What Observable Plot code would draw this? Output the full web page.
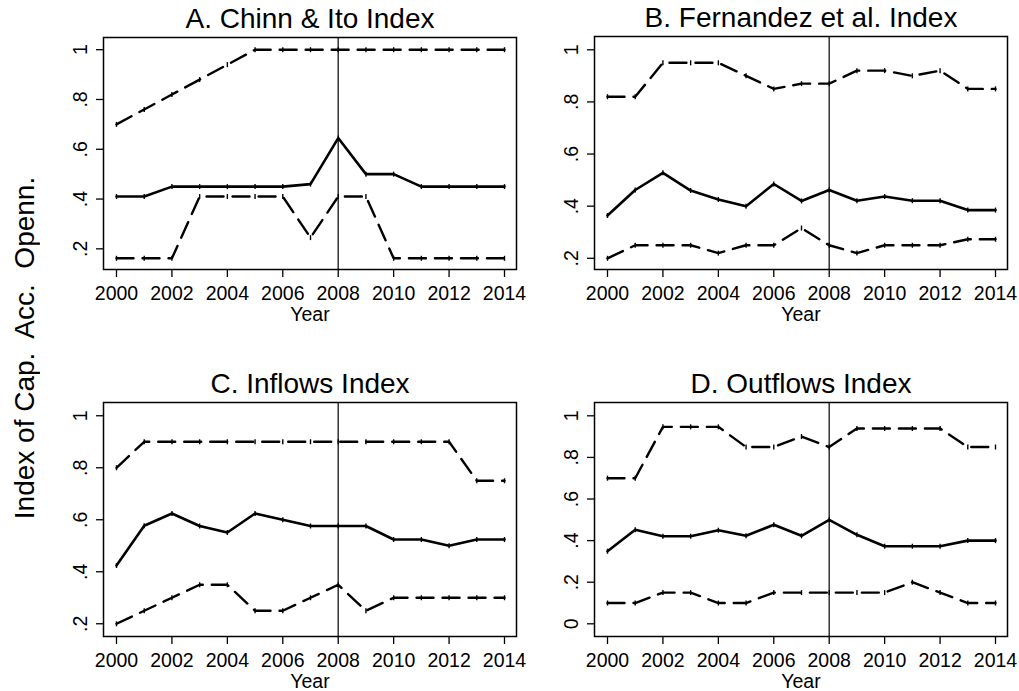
<!DOCTYPE html>
<html>
<head>
<meta charset="utf-8">
<script src="https://cdn.jsdelivr.net/npm/d3@7"></script>
<script src="https://cdn.jsdelivr.net/npm/@observablehq/plot@0.6"></script>
<style>
  html, body { margin: 0; padding: 0; background: #fff; }
  #root { position: relative; width: 1019px; height: 691px; overflow: hidden; background: #fff;
          font-family: "Liberation Sans", Arial, Helvetica, sans-serif; }
  #ylab { position: absolute; left: 25px; top: 348px; transform: translate(-50%, -50%) rotate(-90deg);
          white-space: pre; font-size: 28px; line-height: 1.12; color: #000; }
</style>
</head>
<body>
<div id="root"><div id="ylab">Index of Cap.  Acc.  Openn.</div></div>
<script>
// ---- data ----
const years = [2000, 2001, 2002, 2003, 2004, 2005, 2006, 2007, 2008, 2009, 2010, 2011, 2012, 2013, 2014];
const xTicks = [2000, 2002, 2004, 2006, 2008, 2010, 2012, 2014];
const yTicksABC = [0.2, 0.4, 0.6, 0.8, 1];
const yTicksD = [0, 0.2, 0.4, 0.6, 0.8, 1];
const crisisYear = [2008];

const titles = ["A. Chinn & Ito Index", "B. Fernandez et al. Index", "C. Inflows Index", "D. Outflows Index"];

const A_upper  = [0.70, 0.76, 0.82, 0.88, 0.94, 1, 1, 1, 1, 1, 1, 1, 1, 1, 1];
const A_median = [0.41, 0.41, 0.45, 0.45, 0.45, 0.45, 0.45, 0.46, 0.645, 0.50, 0.50, 0.45, 0.45, 0.45, 0.45];
const A_lower  = [0.162, 0.162, 0.162, 0.41, 0.41, 0.41, 0.41, 0.245, 0.41, 0.41, 0.162, 0.162, 0.162, 0.162, 0.162];

const B_upper  = [0.82, 0.82, 0.95, 0.95, 0.95, 0.90, 0.85, 0.87, 0.87, 0.92, 0.92, 0.90, 0.92, 0.85, 0.85];
const B_median = [0.364, 0.462, 0.528, 0.46, 0.426, 0.40, 0.485, 0.42, 0.462, 0.421, 0.437, 0.421, 0.421, 0.385, 0.385];
const B_lower  = [0.20, 0.25, 0.25, 0.25, 0.22, 0.25, 0.25, 0.316, 0.25, 0.22, 0.25, 0.25, 0.25, 0.273, 0.273];

const C_upper  = [0.80, 0.90, 0.90, 0.90, 0.90, 0.90, 0.90, 0.90, 0.90, 0.90, 0.90, 0.90, 0.90, 0.75, 0.75];
const C_median = [0.424, 0.577, 0.624, 0.576, 0.551, 0.624, 0.60, 0.576, 0.576, 0.576, 0.524, 0.524, 0.50, 0.524, 0.524];
const C_lower  = [0.20, 0.25, 0.30, 0.35, 0.35, 0.25, 0.25, 0.30, 0.35, 0.25, 0.30, 0.30, 0.30, 0.30, 0.30];

const D_upper  = [0.70, 0.70, 0.947, 0.947, 0.947, 0.85, 0.85, 0.90, 0.85, 0.939, 0.939, 0.939, 0.939, 0.85, 0.85];
const D_median = [0.349, 0.452, 0.421, 0.421, 0.45, 0.423, 0.476, 0.423, 0.50, 0.428, 0.373, 0.373, 0.373, 0.40, 0.40];
const D_lower  = [0.10, 0.10, 0.15, 0.15, 0.10, 0.10, 0.15, 0.15, 0.15, 0.15, 0.15, 0.20, 0.15, 0.10, 0.10];

// ---- layout ----
const FONT = "Liberation Sans, Arial, Helvetica, sans-serif";
const panels = [
  {title: titles[0], upper: A_upper, median: A_median, lower: A_lower, yTicks: yTicksABC, yDomain: [0.117, 1.049],
   left: 40, top: 0, width: 479, height: 330, m: {l: 63, r: 3, t: 37, b: 61}},
  {title: titles[1], upper: B_upper, median: B_median, lower: B_lower, yTicks: yTicksABC, yDomain: [0.157, 1.051],
   left: 530, top: 0, width: 489, height: 330, m: {l: 64, r: 12, t: 36, b: 61}},
  {title: titles[2], upper: C_upper, median: C_median, lower: C_lower, yTicks: yTicksABC, yDomain: [0.151, 1.051],
   left: 40, top: 350, width: 479, height: 341, m: {l: 63, r: 3, t: 52, b: 55}},
  {title: titles[3], upper: D_upper, median: D_median, lower: D_lower, yTicks: yTicksD, yDomain: [-0.061, 1.064],
   left: 530, top: 350, width: 489, height: 341, m: {l: 64, r: 12, t: 52, b: 55}}
];

const fmtY = d => d === 0 ? "0" : d === 1 ? "1" : String(d).replace(/^0/, "");

const vbar = { draw(context, size) { context.moveTo(0, -2.5); context.lineTo(0, 2.5); } };

const root = document.getElementById("root");

for (const p of panels) {
  const rows = [];
  years.forEach((yr, i) => {
    rows.push({year: yr, v: p.upper[i], s: "upper"});
    rows.push({year: yr, v: p.median[i], s: "median"});
    rows.push({year: yr, v: p.lower[i], s: "lower"});
  });
  const band = rows.filter(d => d.s !== "median");
  const med = rows.filter(d => d.s === "median");

  const chart = Plot.plot({
    width: p.width,
    height: p.height,
    marginLeft: p.m.l, marginRight: p.m.r, marginTop: p.m.t, marginBottom: p.m.b,
    style: {fontFamily: FONT, fontSize: "19.5px", background: "white", color: "#000", overflow: "visible"},
    x: {domain: [1999.531, 2014.433]},
    y: {domain: p.yDomain},
    marks: [
      Plot.ruleX(crisisYear, {stroke: "#333", strokeWidth: 1.5}),
      Plot.line(band, {x: "year", y: "v", z: "s", stroke: "#000", strokeWidth: 2.4,
                       strokeDasharray: "17,9", strokeLinejoin: "miter"}),
      Plot.line(med, {x: "year", y: "v", stroke: "#000", strokeWidth: 2.6, strokeLinejoin: "miter"}),
      Plot.dot(rows, {x: "year", y: "v", symbol: vbar, r: 2, stroke: "#000", strokeWidth: 1.4, fill: "none"}),
      Plot.frame({stroke: "#000", strokeWidth: 1.5}),
      Plot.axisX({ticks: xTicks, tickFormat: d => String(d), tickSize: 8, tickPadding: 9,
                  fontSize: 19.5, stroke: "#000", strokeWidth: 1.3, label: null}),
      Plot.axisY({ticks: p.yTicks, tickFormat: () => "", tickSize: 7, tickPadding: 0,
                  stroke: "#000", strokeWidth: 1.3, label: null}),
      Plot.text(p.yTicks, {y: d => d, text: fmtY, frameAnchor: "left", dx: -23, rotate: -90,
                           textAnchor: "middle", lineAnchor: "middle", fontSize: 19.5, fill: "#000"}),
      Plot.text([p.title], {frameAnchor: "top", dy: -10, lineAnchor: "bottom", fontSize: 28, fill: "#000"}),
      Plot.text(["Year"], {frameAnchor: "bottom", dy: 51, lineAnchor: "bottom", fontSize: 19.5, fill: "#000"})
    ]
  });
  chart.style.left = p.left + "px";
  chart.style.top = p.top + "px";
  chart.style.position = "absolute";
  root.appendChild(chart);
}
</script>
</body>
</html>
